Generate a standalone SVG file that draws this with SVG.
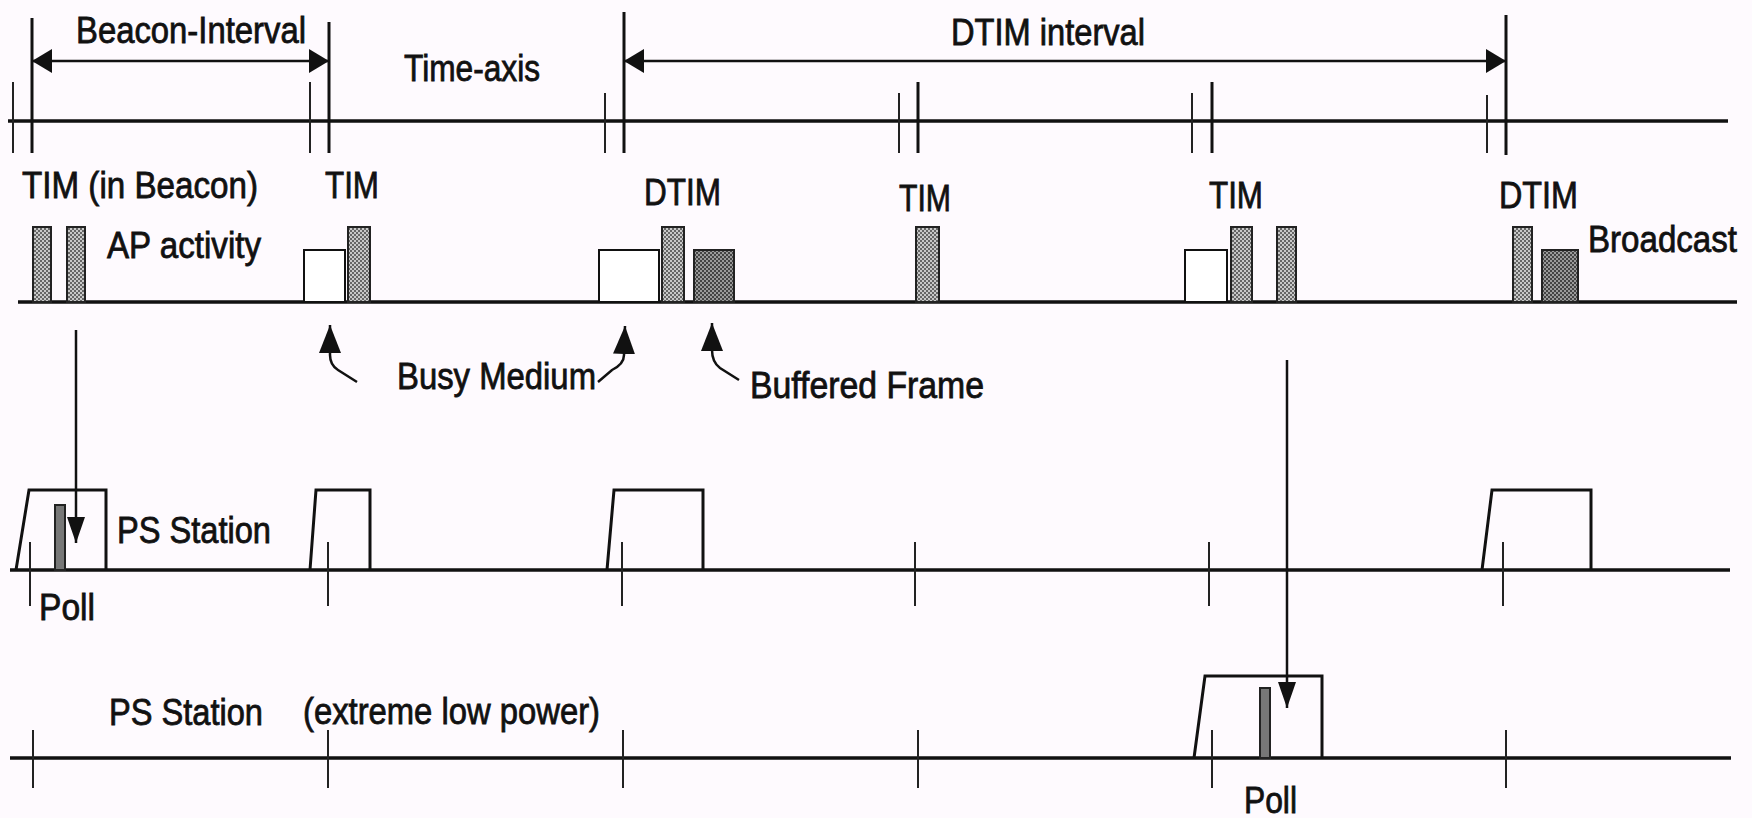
<svg xmlns="http://www.w3.org/2000/svg" width="1752" height="818" viewBox="0 0 1752 818">
<style>
text{font-family:"Liberation Sans",Arial,sans-serif;font-size:37px;fill:#111;stroke:#111;stroke-width:0.8;}
.ax{stroke:#111;stroke-width:3.5;fill:none;}
.tk{stroke:#222;stroke-width:2;fill:none;}
.tkb{stroke:#111;stroke-width:3;fill:none;}
.st{stroke:#111;stroke-width:3;fill:none;stroke-linejoin:miter;}
.ln{stroke:#111;stroke-width:2.5;fill:none;}
.bar{fill:url(#hatchL);stroke:#222;stroke-width:2;}
.barD{fill:url(#hatchD);stroke:#222;stroke-width:2;}
.box{fill:#fff;stroke:#111;stroke-width:2;}
.pb{fill:#777;stroke:#222;stroke-width:2;}
</style>
<defs>
<pattern id="hatchL" width="4" height="4" patternUnits="userSpaceOnUse">
<rect width="4" height="4" fill="#c8c8c8"/>
<rect width="2" height="2" fill="#666"/>
<rect x="2" y="2" width="2" height="2" fill="#666"/>
</pattern>
<pattern id="hatchD" width="4" height="4" patternUnits="userSpaceOnUse">
<rect width="4" height="4" fill="#9a9a9a"/>
<rect width="2" height="2" fill="#444"/>
<rect x="2" y="2" width="2" height="2" fill="#444"/>
</pattern>
<marker id="arr" viewBox="0 0 20 24" refX="20" refY="12" markerWidth="20" markerHeight="24" markerUnits="userSpaceOnUse" orient="auto-start-reverse">
<path d="M0,0 L20,12 L0,24 z" fill="#111"/>
</marker>
<marker id="arrL" viewBox="0 0 28 22" refX="28" refY="11" markerWidth="28" markerHeight="22" markerUnits="userSpaceOnUse" orient="auto">
<path d="M0,0 L28,11 L0,22 z" fill="#111"/>
</marker>
<marker id="arrV" viewBox="0 0 26 18" refX="26" refY="9" markerWidth="26" markerHeight="18" markerUnits="userSpaceOnUse" orient="auto">
<path d="M0,0 L26,9 L0,18 z" fill="#111"/>
</marker>
</defs>
<rect width="1752" height="818" fill="#fefafe"/>

<g id="time-axis">
<line class="ax" x1="8" y1="121" x2="1728" y2="121"/>
<line class="tk" x1="13" y1="82" x2="13" y2="153"/>
<line class="tkb" x1="32" y1="18" x2="32" y2="153"/>
<line class="tk" x1="310" y1="82" x2="310" y2="153"/>
<line class="tkb" x1="329" y1="22" x2="329" y2="153"/>
<line class="tk" x1="605" y1="93" x2="605" y2="153"/>
<line class="tkb" x1="624" y1="12" x2="624" y2="153"/>
<line class="tk" x1="899" y1="93" x2="899" y2="153"/>
<line class="tkb" x1="918" y1="82" x2="918" y2="153"/>
<line class="tk" x1="1192" y1="93" x2="1192" y2="153"/>
<line class="tkb" x1="1212" y1="82" x2="1212" y2="153"/>
<line class="tk" x1="1487" y1="95" x2="1487" y2="153"/>
<line class="tkb" x1="1506" y1="15" x2="1506" y2="155"/>
<text x="404" y="81" textLength="136" lengthAdjust="spacingAndGlyphs">Time-axis</text>
</g>

<g id="beacon-interval">
<text x="76" y="43" textLength="230" lengthAdjust="spacingAndGlyphs">Beacon-Interval</text>
</g>
<g id="dtim-interval">
<text x="951" y="45" textLength="194" lengthAdjust="spacingAndGlyphs">DTIM interval</text>
</g>

<g id="ap-activity">
<line class="ax" x1="18" y1="302" x2="1737" y2="302"/>
<text x="107" y="258" textLength="154" lengthAdjust="spacingAndGlyphs">AP activity</text>
<text x="22" y="198" textLength="236" lengthAdjust="spacingAndGlyphs">TIM (in Beacon)</text>
<text x="325" y="198" textLength="54" lengthAdjust="spacingAndGlyphs">TIM</text>
<text x="644" y="205" textLength="77" lengthAdjust="spacingAndGlyphs">DTIM</text>
<text x="899" y="211" textLength="52" lengthAdjust="spacingAndGlyphs">TIM</text>
<text x="1209" y="208" textLength="54" lengthAdjust="spacingAndGlyphs">TIM</text>
<text x="1499" y="208" textLength="79" lengthAdjust="spacingAndGlyphs">DTIM</text>
<text x="1588" y="252" textLength="149" lengthAdjust="spacingAndGlyphs">Broadcast</text>
<rect class="bar" x="33" y="227" width="18" height="75"/>
<rect class="bar" x="67" y="227" width="18" height="75"/>
<rect class="box" x="304" y="250" width="41" height="52"/>
<rect class="bar" x="348" y="227" width="22" height="75"/>
<rect class="box" x="599" y="250" width="60" height="52"/>
<rect class="bar" x="662" y="227" width="22" height="75"/>
<rect class="barD" x="694" y="250" width="40" height="52"/>
<rect class="bar" x="916" y="227" width="23" height="75"/>
<rect class="box" x="1185" y="250" width="42" height="52"/>
<rect class="bar" x="1231" y="227" width="21" height="75"/>
<rect class="bar" x="1277" y="227" width="19" height="75"/>
<rect class="bar" x="1513" y="227" width="19" height="75"/>
<rect class="barD" x="1542" y="250" width="36" height="52"/>
</g>

<g id="busy-medium">
<text x="397" y="389" textLength="199" lengthAdjust="spacingAndGlyphs">Busy Medium</text>
</g>
<g id="buffered-frame">
<text x="750" y="398" textLength="234" lengthAdjust="spacingAndGlyphs">Buffered  Frame</text>
</g>

<g id="ps-station">
<line class="ax" x1="10" y1="570" x2="1730" y2="570"/>
<text x="117" y="543" textLength="154" lengthAdjust="spacingAndGlyphs">PS Station</text>
<polyline class="st" points="16,570 29,490 106,490 106,570"/>
<rect class="pb" x="55" y="505" width="10" height="65"/>
<polyline class="st" points="310,570 316,490 370,490 370,570"/>
<polyline class="st" points="607,570 614,490 703,490 703,570"/>
<polyline class="st" points="1482,570 1492,490 1591,490 1591,570"/>
<line class="tk" x1="30" y1="542" x2="30" y2="606"/>
<line class="tk" x1="328" y1="542" x2="328" y2="606"/>
<line class="tk" x1="622" y1="542" x2="622" y2="606"/>
<line class="tk" x1="915" y1="542" x2="915" y2="606"/>
<line class="tk" x1="1209" y1="542" x2="1209" y2="606"/>
<line class="tk" x1="1503" y1="542" x2="1503" y2="606"/>
<text x="39" y="620" textLength="56" lengthAdjust="spacingAndGlyphs">Poll</text>
</g>

<g id="ps-station-low-power">
<line class="ax" x1="10" y1="758" x2="1731" y2="758"/>
<text x="109" y="725" textLength="154" lengthAdjust="spacingAndGlyphs">PS Station</text>
<text x="303" y="724" textLength="297" lengthAdjust="spacingAndGlyphs">(extreme low power)</text>
<polyline class="st" points="1194,758 1205,676 1322,676 1322,758"/>
<rect class="pb" x="1260" y="688" width="10" height="70"/>
<line class="tk" x1="33" y1="730" x2="33" y2="788"/>
<line class="tk" x1="328" y1="730" x2="328" y2="788"/>
<line class="tk" x1="623" y1="730" x2="623" y2="788"/>
<line class="tk" x1="918" y1="730" x2="918" y2="788"/>
<line class="tk" x1="1212" y1="730" x2="1212" y2="788"/>
<line class="tk" x1="1506" y1="730" x2="1506" y2="788"/>
<text x="1244" y="813" textLength="53" lengthAdjust="spacingAndGlyphs">Poll</text>
</g>

<g id="connectors">
<line class="ln" x1="32" y1="61" x2="329" y2="61" marker-start="url(#arr)" marker-end="url(#arr)"/>
<line class="ln" x1="624" y1="61" x2="1506" y2="61" marker-start="url(#arr)" marker-end="url(#arr)"/>
<path class="ln" d="M357,382 L338,370 Q330,365 330,355 L330,325" marker-end="url(#arrL)"/>
<path class="ln" d="M598,382 L612,370 Q624,364 624,355 L625,326" marker-end="url(#arrL)"/>
<path class="ln" d="M739,380 L720,368 Q712,362 712,350 L712,323" marker-end="url(#arrL)"/>
<line class="ln" x1="76" y1="330" x2="76" y2="543" marker-end="url(#arrV)"/>
<line class="ln" x1="1287" y1="360" x2="1287" y2="708" marker-end="url(#arrV)"/>
</g>
</svg>
